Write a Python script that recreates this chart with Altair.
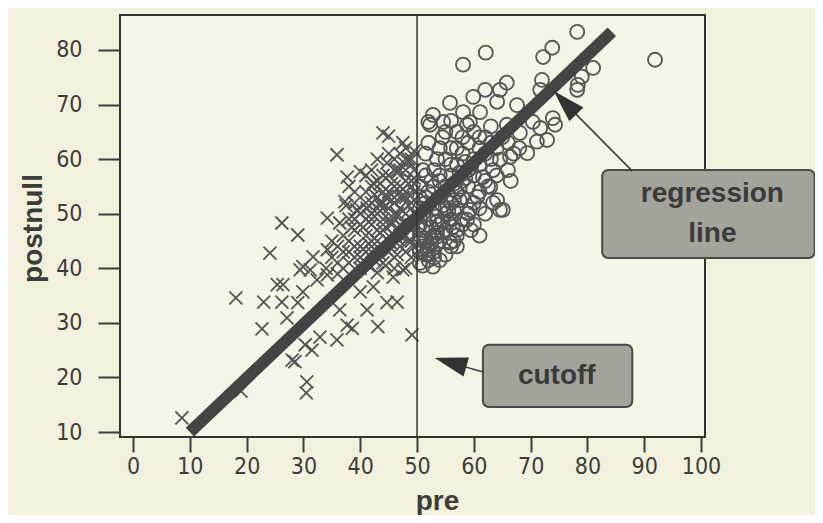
import altair as alt
import pandas as pd

# ---- data ----
cross_pre = [8.6, 18.1, 19.0, 23.0, 22.7, 25.4, 26.4, 26.2, 27.1, 28.0, 28.5, 30.6, 30.5, 29.0, 29.9, 29.4,
             31.5, 30.3, 32.9, 35.9, 37.7, 38.6, 43.1, 49.1, 46.5, 44.7, 41.2, 36.4, 40.0, 42.3, 32.4, 34.2,
             31.2, 43.0, 45.8, 47.5, 44.0, 45.0, 35.9, 37.7, 40.0, 47.5, 37.3, 26.2, 29.0, 24.1, 34.2, 36.4,
             39.4, 41.2, 31.7, 29.9, 34.2, 42.3, 44.7, 46.5,
             38, 39, 40, 41, 42, 43, 44, 45, 46, 47, 48, 49,
             38, 39, 40, 41, 42, 43, 44, 45, 46, 47, 48, 49,
             40, 41, 42, 43, 44, 45, 46, 47, 48, 49, 48, 49,
             41, 43, 44, 45, 46, 47, 48, 49, 47, 46, 45, 44,
             43, 42, 40, 39, 38, 37, 36, 35, 37, 36, 35, 34,
             42, 43, 45, 46, 47, 48, 44, 39, 38, 39, 41, 42,
             47, 48, 49, 49, 48, 46, 45, 44, 43, 42, 41, 40, 39, 38, 37, 36,
             48.5, 49.5, 47.5, 46.5, 45.5, 49.5, 48.5, 47.5, 49.5, 44.5, 43.5, 49.5, 48.5,
             40.5, 41.5, 42.5, 43.5, 44.5, 45.5, 46.5, 47.5, 48.5, 49.5,
             40.5, 41.5, 42.5, 43.5, 44.5, 45.5, 46.5, 47.5, 48.5, 49.5,
             41.5, 42.5, 43.5, 44.5, 45.5, 46.5, 47.5, 48.5, 49.5,
             42.5, 43.5, 44.5, 45.5, 46.5, 47.5, 48.5, 49.5,
             39.5, 38.5, 37.5, 41.5, 43.5, 45.5, 47.5, 49.5, 46.5, 44.5]
cross_post = [12.6, 34.6, 17.5, 33.8, 28.9, 37.0, 37.0, 33.8, 30.9, 23.2, 22.9, 19.2, 17.2, 33.7, 35.7, 39.7,
              25.0, 26.0, 27.4, 26.9, 29.6, 29.0, 29.3, 27.8, 33.8, 33.7, 32.4, 32.4, 35.7, 36.6, 37.9, 38.8,
              39.7, 39.2, 38.4, 39.7, 64.8, 64.2, 60.8, 56.7, 57.7, 63.0, 52.2, 48.3, 46.1, 42.8, 49.2, 48.3,
              50.7, 51.0, 42.1, 40.3, 43.4, 55.6, 59.3, 58.0,
              45, 47, 44, 46, 48, 45, 47, 49, 46, 48, 50, 47,
              41, 42, 40, 41, 43, 42, 41, 43, 42, 44, 43, 45,
              50, 52, 50, 53, 51, 54, 52, 55, 53, 56, 58, 60,
              54, 56, 54, 57, 55, 58, 56, 52, 51, 49, 51, 49,
              50, 52, 48, 49, 49, 46, 44, 45, 43, 41, 42, 40,
              58, 60, 61, 60, 61, 62, 57, 54, 55, 52, 57, 55,
              46, 46, 49, 42, 40, 40, 45, 44, 47, 45, 43, 42, 44, 43, 40, 39,
              48, 50, 53, 50, 48, 44, 45, 46, 54, 53, 52, 58, 60,
              43.5, 44.5, 45.5, 46.5, 47.5, 48.5, 49.5, 50.5, 51.5, 52.5,
              47.5, 48.5, 49.5, 50.5, 51.5, 52.5, 53.5, 54.5, 55.5, 56.5,
              40.5, 41.5, 42.5, 43.5, 44.5, 45.5, 46.5, 47.5, 48.5,
              53.5, 55.5, 56.5, 55.5, 57.5, 59.5, 59.5, 61.5,
              50.5, 47.5, 51.5, 49.5, 51.5, 53.5, 53.5, 55.5, 42.5, 40.5]

circle_pre = [58.1, 62.1, 78.2, 72.2, 73.8, 91.9, 81.0, 79.0, 78.3, 78.2, 72.0, 71.7, 65.8, 64.6, 62.0, 59.9,
              55.8, 52.8, 52.0, 58.1, 61.1, 64.1, 67.6, 73.9, 74.3, 71.7, 70.4, 72.9, 71.1, 68.1, 65.8, 59.3,
              54.6, 52.3, 58.8, 69.4, 66.4, 64.6, 63.4, 61.6, 62.9, 64.1, 64.6, 63.4, 60.6, 59.3, 58.8, 57.0,
              55.8, 53.5, 50.5, 51.8, 54.0, 52.8, 50.5, 56.3, 65.1,
              50.5, 51, 51.5, 52, 52.5, 53, 53.5, 54, 54.5,
              51, 52, 53, 54, 55, 56, 57, 58, 59, 60,
              52, 53, 54, 55, 56, 57, 58, 59, 60, 61, 62,
              53, 54, 55, 56, 57, 58, 59, 60, 61, 62, 63,
              55, 56, 57, 58, 59, 60, 61, 62, 63, 64, 65,
              50.5, 51, 51.5, 52, 55, 56, 57, 58, 56, 55, 54,
              50.5, 51.5, 53, 54, 56, 57, 61, 63, 66, 67,
              50.5, 51.5, 53, 52, 51, 57, 60, 61, 62, 66, 68,
              50.5, 51, 52, 50.5, 51.5, 53.5, 55, 56.5, 58, 59.5, 61, 62.5, 64, 66.5,
              50.5, 51.5, 52.5, 53.5, 54.5, 55.5, 56.5, 57.5, 58.5,
              51.5, 52.5, 53.5, 54.5, 55.5, 56.5, 57.5, 58.5, 59.5,
              50.5, 51.5, 52.5, 53.5, 54.5, 55.5, 56.5, 57.5]
circle_post = [77.3, 79.5, 83.3, 78.7, 80.4, 78.2, 76.7, 75.1, 73.6, 72.7, 74.5, 72.7, 74.0, 72.7, 72.7, 71.4,
               70.3, 68.1, 66.8, 68.6, 68.6, 70.5, 69.9, 67.5, 66.3, 65.7, 66.8, 63.5, 63.2, 64.8, 66.3, 66.8,
               66.8, 66.3, 66.3, 61.1, 60.4, 59.9, 58.0, 56.7, 54.9, 52.5, 50.7, 52.0, 53.1, 50.7, 48.9, 47.0,
               44.7, 45.8, 45.2, 43.4, 41.5, 40.3, 41.0, 47.6, 50.7,
               48, 50, 52, 54, 56, 58, 60, 62, 64,
               47, 49, 51, 53, 55, 57, 59, 61, 63, 65,
               44, 46, 48, 50, 52, 54, 56, 58, 60, 62, 64,
               43, 45, 47, 49, 51, 53, 55, 57, 59, 61, 63,
               42.5, 44, 46, 48, 50, 52, 54, 56, 60, 62, 64,
               55, 58, 61, 63, 65, 67, 65, 64, 62, 60, 57,
               51, 53, 55, 56, 59, 62, 64, 66, 63, 61,
               43, 45, 42, 41.5, 40.5, 44, 48, 51, 50, 58, 62,
               46, 44, 42.5, 53, 57, 48.5, 51, 45, 49, 47, 46, 55, 57, 56,
               43.5, 45.5, 47.5, 49.5, 51.5, 53.5, 55.5, 57.5, 59.5,
               42.5, 44.5, 46.5, 48.5, 50.5, 52.5, 54.5, 56.5, 58.5,
               49.5, 47.5, 45.5, 44.5, 46.5, 48.5, 50.5, 52.5]

reg_pre = [10.0, 84.3]
reg_post = [10.0, 83.3]
cutoff = 50

x_ticks = [0, 10, 20, 30, 40, 50, 60, 70, 80, 90, 100]
y_ticks = [10, 20, 30, 40, 50, 60, 70, 80]

X_DOM = [-2.3, 100.7]
Y_DOM = [9.1, 86.4]

INK = "#3c3c3c"
MARK = "#555555"
FONT = "DejaVu Sans Condensed, Liberation Sans, sans-serif"
BOLD = "Liberation Sans, Arial, sans-serif"

cross_df = pd.DataFrame({"pre": cross_pre, "postnull": cross_post})
circ_df = pd.DataFrame({"pre": circle_pre, "postnull": circle_post})
reg_df = pd.DataFrame({"pre": reg_pre, "postnull": reg_post})

xs = alt.Scale(domain=X_DOM, nice=False, zero=False)
ys = alt.Scale(domain=Y_DOM, nice=False, zero=False)

xaxis = alt.Axis(values=x_ticks, domain=False, grid=False, tickSize=15, tickWidth=2, tickColor=INK,
                 labelFont=FONT, labelFontSize=23, labelColor=INK, labelPadding=3,
                 title="pre", titleFont=BOLD, titleFontWeight="bold", titleFontSize=28, titleColor=INK,
                 titleX=317, titleY=72, titleBaseline="alphabetic", titleAlign="center")
yaxis = alt.Axis(values=y_ticks, domain=False, grid=False, tickSize=22, tickWidth=2, tickColor=INK,
                 labelFont=FONT, labelFontSize=23, labelColor=INK, labelPadding=16,
                 title="postnull", titleFont=BOLD, titleFontWeight="bold", titleFontSize=28, titleColor=INK,
                 titleAngle=270, titleX=-87, titleY=213, titleBaseline="middle", titleAlign="center")

base_x = alt.X("pre:Q", scale=xs, axis=xaxis)
base_y = alt.Y("postnull:Q", scale=ys, axis=yaxis)

crosses = alt.Chart(cross_df).mark_point(
    shape="M-1,-1L1,1M1,-1L-1,1", filled=False, size=169, stroke=MARK, strokeWidth=1.8, opacity=1
).encode(x=base_x, y=base_y)

circles = alt.Chart(circ_df).mark_point(
    shape="circle", filled=False, size=196, stroke=MARK, strokeWidth=1.8, opacity=1
).encode(x="pre:Q", y="postnull:Q")

reg = alt.Chart(reg_df).mark_line(color="#444444", strokeWidth=12, strokeCap="butt").encode(
    x="pre:Q", y="postnull:Q")

cut_df = pd.DataFrame({"pre": [cutoff], "y0": [Y_DOM[0]], "y1": [Y_DOM[1]]})
cut = alt.Chart(cut_df).mark_rule(color="#333333", strokeWidth=1.5).encode(
    x="pre:Q", y="y0:Q", y2="y1:Q")

# annotations (data coordinates)
box_df = pd.DataFrame({"x": [82.6, 61.6], "x2": [120.0, 87.9], "y": [58.0, 26.0], "y2": [41.9, 14.6]})
boxes = alt.Chart(box_df).mark_rect(fill="#a3a39b", stroke="#4a4a4a", strokeWidth=2, cornerRadius=6).encode(
    x="x:Q", x2="x2:Q", y="y:Q", y2="y2:Q")

txt_df = pd.DataFrame({"x": [102.0, 102.0, 74.6], "y": [53.6, 46.3, 20.3],
                       "t": ["regression", "line", "cutoff"]})
texts = alt.Chart(txt_df).mark_text(font=BOLD, fontWeight="bold", fontSize=28, color="#3a3a3a",
                                    align="center", baseline="middle").encode(
    x="x:Q", y="y:Q", text="t:N")

arr_df = pd.DataFrame({"x": [87.9, 61.6], "y": [57.8, 21.0], "x2": [76.5, 57.0], "y2": [69.8, 22.4]})
arr_lines = alt.Chart(arr_df).mark_rule(color="#3a3a3a", strokeWidth=1.5).encode(
    x="x:Q", y="y:Q", x2="x2:Q", y2="y2:Q")

head_df = pd.DataFrame({"x": [76.2, 56.1], "y": [70.2, 22.7], "a": [316, 286]})
heads = alt.Chart(head_df).mark_point(
    shape="M0,-1L0.6,1L-0.6,1Z", filled=True, fill="#333333", stroke="#333333", size=800, opacity=1
).encode(x="x:Q", y="y:Q", angle=alt.Angle("a:Q", scale=None))

chart = alt.layer(crosses, circles, reg, cut, boxes, arr_lines, heads, texts).properties(
    width=585, height=422,
    padding={"left": 112, "top": 7, "right": 110, "bottom": 78},
    autosize=alt.AutoSizeParams(type="none"),
    background="#f3f1de",
).configure_view(stroke="#333333", strokeWidth=2, fill="#f6f4e6")

chart.save("out.html", embed_options={"renderer": "svg", "actions": False})
